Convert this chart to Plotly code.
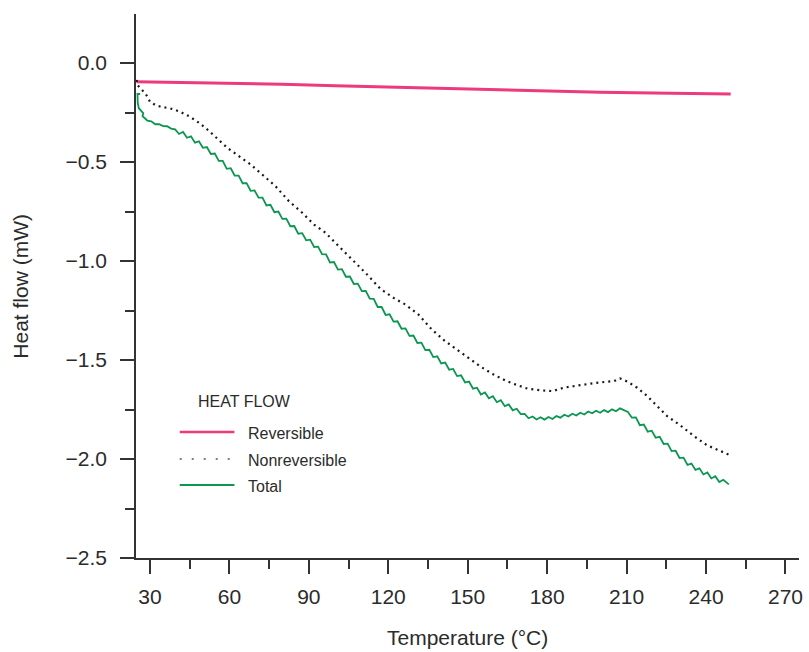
import plotly.graph_objects as go

# ---- data -------------------------------------------------------------
rev_temp = [24.9, 40.0, 60.0, 80.0, 100.0, 120.0, 140.0, 160.0, 180.0, 200.0, 220.0, 235.0, 249.3]
rev_flow = [-0.094, -0.097, -0.101, -0.107, -0.114, -0.121, -0.128, -0.135, -0.142, -0.147, -0.151, -0.154, -0.156]

nonrev_temp = [25.0, 25.2, 28.4, 30.0, 31.9, 34.4, 37.5, 41.3, 45.0, 48.7, 52.5, 55.6, 59.3,
               63.7, 68.1, 72.5, 77.5, 82.5, 87.6, 92.0, 96.4, 98.2, 102.0, 107.0, 112.0,
               117.0, 122.0, 126.4, 131.4, 136.4, 141.4, 145.8, 150.2, 154.6, 159.6, 164.6,
               169.6, 172.7, 177.7, 182.1, 186.5, 191.5, 196.5, 201.5, 205.3, 207.5, 210.2,
               214.0, 217.8, 221.5, 225.3, 230.3, 235.3, 240.3, 244.7, 248.6]
nonrev_flow = [-0.085, -0.110, -0.155, -0.194, -0.211, -0.222, -0.228, -0.245, -0.270, -0.303,
               -0.345, -0.384, -0.429, -0.471, -0.513, -0.564, -0.623, -0.698, -0.757, -0.816,
               -0.858, -0.883, -0.933, -1.001, -1.068, -1.140, -1.186, -1.219, -1.270, -1.345,
               -1.404, -1.446, -1.488, -1.531, -1.572, -1.606, -1.631, -1.645, -1.653, -1.657,
               -1.639, -1.628, -1.619, -1.611, -1.606, -1.593, -1.608, -1.640, -1.682, -1.732,
               -1.783, -1.830, -1.883, -1.930, -1.954, -1.978]

total_temp = [26.3, 25.3, 25.4, 25.8, 27.5, 27.2, 28.7,
              29.0, 30.5, 32.0, 33.5, 35.0, 36.5, 38.0, 39.5, 41.0, 42.5,
              44.0, 45.5, 47.0, 48.5, 50.0, 51.5, 53.0, 54.5, 56.0, 57.5,
              59.0, 60.5, 62.0, 63.5, 65.0, 66.5, 68.0, 69.5, 71.0, 72.5,
              74.0, 75.5, 77.0, 78.5, 80.0, 81.5, 83.0, 84.5, 86.0, 87.5,
              89.0, 90.5, 92.0, 93.5, 95.0, 96.5, 98.0, 99.5, 101.0, 102.5,
              104.0, 105.5, 107.0, 108.5, 110.0, 111.5, 113.0, 114.5, 116.0, 117.5,
              119.0, 120.5, 122.0, 123.5, 125.0, 126.5, 128.0, 129.5, 131.0, 132.5,
              134.0, 135.5, 137.0, 138.5, 140.0, 141.5, 143.0, 144.5, 146.0, 147.5,
              149.0, 150.5, 152.0, 153.5, 155.0, 156.5, 158.0, 159.5, 161.0, 162.5,
              164.0, 165.5, 167.0, 168.5, 170.0, 171.5, 173.0, 174.5, 176.0, 177.5,
              179.0, 180.5, 182.0, 183.5, 185.0, 186.5, 188.0, 189.5, 191.0, 192.5,
              194.0, 195.5, 197.0, 198.5, 200.0, 201.5, 203.0, 204.5, 206.0, 207.5,
              209.0, 210.5, 212.0, 213.5, 215.0, 216.5, 218.0, 219.5, 221.0, 222.5,
              224.0, 225.5, 227.0, 228.5, 230.0, 231.5, 233.0, 234.5, 236.0, 237.5,
              239.0, 240.5, 242.0, 243.5, 245.0, 246.5, 248.6]
total_flow = [-0.156, -0.156, -0.200, -0.228, -0.253, -0.268, -0.286,
              -0.291, -0.294, -0.309, -0.308, -0.318, -0.319, -0.331, -0.335, -0.358, -0.348,
              -0.377, -0.370, -0.402, -0.395, -0.428, -0.424, -0.459, -0.457, -0.494, -0.494,
              -0.534, -0.531, -0.568, -0.568, -0.607, -0.606, -0.645, -0.643, -0.680, -0.680,
              -0.719, -0.716, -0.753, -0.750, -0.787, -0.786, -0.824, -0.823, -0.862, -0.859,
              -0.895, -0.892, -0.929, -0.927, -0.965, -0.966, -1.007, -1.005, -1.043, -1.041,
              -1.079, -1.078, -1.116, -1.114, -1.152, -1.151, -1.190, -1.191, -1.232, -1.232,
              -1.272, -1.269, -1.306, -1.304, -1.342, -1.340, -1.378, -1.376, -1.414, -1.412,
              -1.450, -1.448, -1.485, -1.481, -1.517, -1.513, -1.549, -1.545, -1.581, -1.577,
              -1.613, -1.609, -1.645, -1.640, -1.674, -1.664, -1.693, -1.683, -1.713, -1.703,
              -1.733, -1.724, -1.754, -1.746, -1.773, -1.772, -1.794, -1.785, -1.800, -1.789,
              -1.801, -1.788, -1.798, -1.783, -1.791, -1.776, -1.785, -1.771, -1.780, -1.766,
              -1.775, -1.760, -1.769, -1.756, -1.766, -1.753, -1.763, -1.749, -1.759, -1.744,
              -1.752, -1.762, -1.791, -1.790, -1.829, -1.826, -1.862, -1.857, -1.892, -1.888,
              -1.924, -1.922, -1.960, -1.958, -1.995, -1.993, -2.030, -2.023, -2.055, -2.047,
              -2.078, -2.068, -2.098, -2.087, -2.116, -2.105, -2.128]

series_names = ["Reversible", "Nonreversible", "Total"]
legend_title = "HEAT FLOW"
x_title = "Temperature (°C)"
y_title = "Heat flow (mW)"

# ---- styling ----------------------------------------------------------
W, H = 809, 652
L, R, T, B = 136, 6, 14, 94
PINK = "#ec3a7d"
GREEN = "#0b9651"
DOT = "#1a1a1a"
INK = "#2b2b2b"
FONT = "Liberation Sans, Arial, sans-serif"

fig = go.Figure()
fig.add_trace(go.Scatter(x=rev_temp, y=rev_flow, mode="lines", name=series_names[0],
                         line=dict(color=PINK, width=3)))
fig.add_trace(go.Scatter(x=nonrev_temp, y=nonrev_flow, mode="lines", name=series_names[1],
                         line=dict(color=DOT, width=2.2, dash="2px,4px")))
fig.add_trace(go.Scatter(x=total_temp, y=total_flow, mode="lines", name=series_names[2],
                         line=dict(color=GREEN, width=1.8)))

axis_common = dict(
    showgrid=False, zeroline=False, showline=True, linecolor="#333333", linewidth=1.5,
    ticks="outside", ticklen=14, tickwidth=1.5, tickcolor="#333333",
    tickfont=dict(family=FONT, size=21, color=INK),
)
fig.update_xaxes(range=[24.74, 275.1], dtick=30, tick0=0, ticklabelstandoff=5,
                 minor=dict(dtick=15, ticklen=9, tickwidth=1.5, tickcolor="#333333", ticks="outside"),
                 **axis_common)
fig.update_yaxes(range=[-2.5, 0.248], dtick=0.5, tick0=0, tickformat=".1f", ticklabelstandoff=9,
                 minor=dict(dtick=0.25, ticklen=9, tickwidth=1.5, tickcolor="#333333", ticks="outside"),
                 **axis_common)

pw, ph = W - L - R, H - T - B


def px(x):
    return (x - L) / pw


def py(y):
    return (H - B - y) / ph


annotations = [
    dict(text=x_title, x=0.5, y=py(637), xref="paper", yref="paper", showarrow=False,
         xanchor="center", yanchor="middle", font=dict(family=FONT, size=21, color=INK)),
    dict(text=y_title, x=px(19), y=0.5, xref="paper", yref="paper", showarrow=False,
         textangle=-90, xanchor="center", yanchor="middle", font=dict(family=FONT, size=21, color=INK)),
    dict(text=legend_title, x=px(196), y=py(401), xref="paper", yref="paper", showarrow=False,
         xanchor="left", yanchor="middle", font=dict(family=FONT, size=16, color=INK)),
]
shapes = []
legend_rows = [(432, PINK, 2.5, "solid"), (459, "#555555", 1.5, "2px,10px"), (485, GREEN, 1.8, "solid")]
for name, (yy, col, w, dash) in zip(series_names, legend_rows):
    shapes.append(dict(type="line", xref="paper", yref="paper", x0=px(180), x1=px(235),
                       y0=py(yy), y1=py(yy), line=dict(color=col, width=w, dash=dash)))
    annotations.append(dict(text=name, x=px(247), y=py(yy + 1), xref="paper", yref="paper",
                            showarrow=False, xanchor="left", yanchor="middle",
                            font=dict(family=FONT, size=16, color=INK)))

fig.update_layout(
    width=W, height=H, margin=dict(l=L, r=R, t=T, b=B),
    paper_bgcolor="white", plot_bgcolor="white", showlegend=False,
    annotations=annotations, shapes=shapes,
    font=dict(family=FONT, color=INK),
)

fig.write_html("out.html")
